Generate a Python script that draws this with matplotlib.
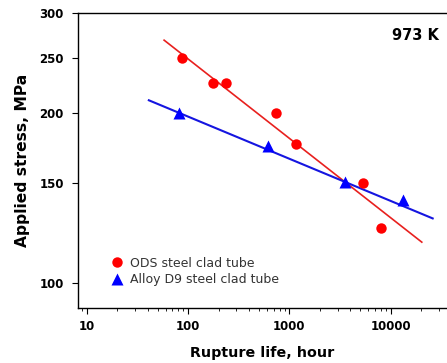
import numpy as np
import matplotlib
matplotlib.use('Agg')
import matplotlib.pyplot as plt
from matplotlib.ticker import FixedLocator, NullFormatter, LogLocator

plt.rcParams['font.family'] = ['DejaVu Sans']

# ODS steel clad tube: rupture life (h), stress (MPa)
ods_life = [88, 175, 237, 740, 1160, 5370, 7980]
ods_stress = [250, 226, 226, 200, 176, 150, 125]
ods_fit_life = [58, 20300]
ods_fit_stress = [269, 118]

# Alloy D9 steel clad tube
d9_life = [82, 612, 3550, 13300]
d9_stress = [200, 175, 151, 140]
d9_fit_life = [41, 26000]
d9_fit_stress = [210.5, 130]

yticks = [100, 150, 200, 250, 300]
xticks = [10, 100, 1000, 10000]

fig = plt.figure(figsize=(4.47, 3.63), dpi=100)
ax = fig.add_axes([0.174, 0.1515, 0.826, 0.8115])

ax.plot(ods_fit_life, ods_fit_stress, color='#e8201e', lw=1.2)
ax.plot(d9_fit_life, d9_fit_stress, color='#1515e0', lw=1.5)
ax.plot(ods_life, ods_stress, 'o', color='#ff0000', ms=7.5, mec='none',
        label='ODS steel clad tube')
ax.plot(d9_life, d9_stress, '^', color='#0000ff', ms=9, mec='none',
        label='Alloy D9 steel clad tube')

ax.set_xscale('log')
ax.set_yscale('log')
ax.set_xlim(8.15, 36000)
ax.set_ylim(90.2, 300)

ax.yaxis.set_major_locator(FixedLocator(yticks))
ax.yaxis.set_minor_locator(FixedLocator([]))
ax.set_yticks(yticks)
ax.set_yticklabels([str(v) for v in yticks], fontsize=8.5, fontweight='bold')
ax.xaxis.set_major_locator(FixedLocator(xticks))
ax.xaxis.set_minor_locator(LogLocator(base=10, subs=np.arange(2, 10)))
ax.xaxis.set_minor_formatter(NullFormatter())
ax.set_xticklabels([str(v) for v in xticks], fontsize=8.5, fontweight='bold')

ax.tick_params(axis='both', which='major', direction='out', length=4, width=0.8)
ax.tick_params(axis='x', which='major', pad=4.5)
ax.tick_params(axis='x', which='minor', direction='out', length=2.5, width=0.6)
ax.tick_params(axis='y', which='major', pad=6)

ax.spines['right'].set_visible(False)
for s in ['left', 'bottom', 'top']:
    ax.spines[s].set_linewidth(1.0)

ax.set_xlabel('Rupture life, hour', fontsize=10.3, fontweight='bold', labelpad=9.5)
ax.set_ylabel('Applied stress, MPa', fontsize=11.2, fontweight='bold', labelpad=7)

ax.text(0.978, 0.925, '973 K', transform=ax.transAxes, ha='right', va='center',
        fontsize=10.5, fontweight='bold')

ax.legend(loc='lower left', bbox_to_anchor=(0.06, 0.035), frameon=False,
          fontsize=9, handlelength=1.0, handletextpad=0.5, labelspacing=0.3,
          numpoints=1, labelcolor='#333333')

plt.savefig('out.png', dpi=100)
